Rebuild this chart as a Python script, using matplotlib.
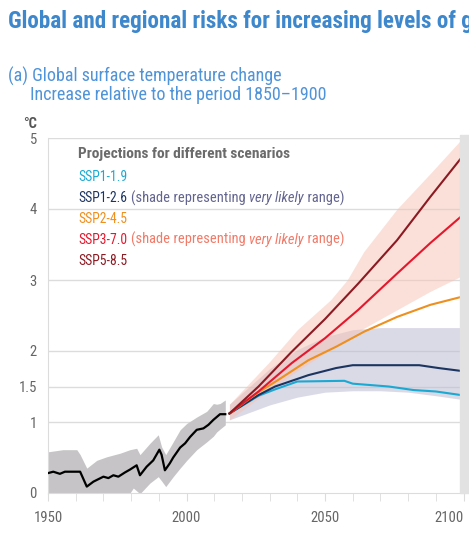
import matplotlib
matplotlib.use("Agg")
import matplotlib.pyplot as plt
from matplotlib.patches import Rectangle

# ---------------- data ----------------
hist_years = [1950, 1951.9, 1954.3, 1956.1, 1961.6, 1964, 1966.4, 1970, 1971.8, 1973.6, 1975.4,
              1977.8, 1979.6, 1982, 1983.2, 1985.6, 1988, 1990.2, 1991, 1992.2, 1994, 1995.2,
              1997.7, 1999.5, 2001.3, 2003.7, 2006.1, 2007.9, 2009.7, 2012.1, 2014]
hist_vals = [0.28, 0.30, 0.27, 0.30, 0.30, 0.09, 0.16, 0.23, 0.21, 0.25, 0.23,
             0.29, 0.33, 0.39, 0.25, 0.37, 0.46, 0.61, 0.54, 0.32, 0.42, 0.50,
             0.64, 0.70, 0.79, 0.89, 0.91, 0.96, 1.03, 1.11, 1.11]

band_years = [1950, 1955.4, 1960.4, 1961.6, 1964, 1967.6, 1971.2, 1976, 1979.6, 1980.8, 1982,
              1983.2, 1986.8, 1989.8, 1991, 1992.5, 1995.2, 1997.7, 2000.1, 2003.7, 2007.3,
              2009.7, 2010.9, 2012.1, 2014]
band_upper = [0.58, 0.61, 0.61, 0.54, 0.35, 0.46, 0.51, 0.56, 0.61, 0.62, 0.63,
              0.54, 0.70, 0.82, 0.65, 0.54, 0.72, 0.89, 0.98, 1.07, 1.15,
              1.26, 1.25, 1.26, 1.31]
band_lower = [-0.05, -0.05, -0.05, -0.05, -0.08, -0.05, -0.05, -0.03, 0.0, 0.07, 0.03,
              -0.01, 0.14, 0.23, 0.17, 0.09, 0.23, 0.35, 0.46, 0.61, 0.72,
              0.80, 0.86, 0.90, 0.96]

ssp119_years = [2015.5, 2026, 2032, 2040, 2057, 2060, 2073, 2082, 2090, 2099]
ssp119 = [1.12, 1.37, 1.46, 1.57, 1.58, 1.54, 1.50, 1.45, 1.43, 1.38]
ssp126_years = [2015.5, 2026, 2032, 2044, 2054, 2060, 2084, 2091, 2099]
ssp126 = [1.12, 1.38, 1.50, 1.66, 1.76, 1.80, 1.80, 1.76, 1.72]
ssp245_years = [2015.5, 2026, 2033, 2044, 2054, 2064, 2076, 2088, 2099]
ssp245 = [1.12, 1.42, 1.59, 1.87, 2.06, 2.27, 2.48, 2.65, 2.76]
ssp370_years = [2015.5, 2026, 2038, 2050, 2062, 2076, 2088, 2099]
ssp370 = [1.12, 1.43, 1.83, 2.18, 2.58, 3.09, 3.52, 3.89]
ssp585_years = [2015.5, 2026, 2038, 2050, 2062, 2076, 2088, 2099]
ssp585 = [1.12, 1.50, 1.99, 2.45, 2.95, 3.56, 4.17, 4.71]

ssp126_range_years = [2015.5, 2030, 2040, 2050, 2060, 2070, 2080, 2090, 2099]
ssp126_lo = [1.03, 1.24, 1.35, 1.42, 1.44, 1.44, 1.42, 1.37, 1.32]
ssp126_hi = [1.25, 1.75, 2.02, 2.20, 2.30, 2.33, 2.33, 2.33, 2.33]
ssp370_range_years = [2015.5, 2030, 2040, 2052, 2058, 2064, 2076, 2088, 2099]
ssp370_lo = [1.03, 1.45, 1.72, 2.02, 2.17, 2.32, 2.58, 2.84, 3.05]
ssp370_hi = [1.25, 1.85, 2.30, 2.72, 3.00, 3.40, 4.00, 4.50, 4.97]

scen_names = ["SSP1-1.9", "SSP1-2.6", "SSP2-4.5", "SSP3-7.0", "SSP5-8.5"]
scen_colors = ["#1aa9d3", "#1c3560", "#ee8f1e", "#e3182d", "#8c1a22"]

yticks = [0, 1, 1.5, 2, 3, 4, 5]
ytick_labels = ["0", "1", "1.5", "2", "3", "4", "5"]
xticks = [1950, 2000, 2050, 2100]
xtick_labels = ["1950", "2000", "2050", "2100"]
minor_xticks = list(range(1950, 2101, 10))

# ---------------- setup ----------------
FAM = ["Roboto Condensed", "DejaVu Sans"]
plt.rcParams["font.family"] = FAM

W, H = 469, 536
fig = plt.figure(figsize=(W / 100, H / 100), dpi=100)
fig.canvas.draw()
R = fig.canvas.get_renderer()


def fx(px):
    return px / W


def fy(py):
    return 1 - py / H


def fit_size(text, target_px, **kw):
    t = fig.text(0, 0, text, fontsize=10, **kw)
    w = t.get_window_extent(R).width
    t.remove()
    return 10 * target_px / w


ax = fig.add_axes([fx(48), fy(493), fx(463.5) - fx(48), fy(138) - fy(493)])
ax.set_xlim(1950, 2100)
ax.set_ylim(0, 5)

grid_c = "#dcdcdc"
for yv in yticks[1:]:
    ax.axhline(yv, color=grid_c, lw=1.0, zorder=0)

for s in ["top", "right"]:
    ax.spines[s].set_visible(False)
ax.spines["left"].set_color(grid_c)
ax.spines["bottom"].set_color(grid_c)

tick_c = "#666666"
tick_size = fit_size("1950", 29)
ax.set_yticks(yticks)
ax.set_yticklabels(ytick_labels)
ax.set_xticks(xticks)
ax.set_xticklabels(xtick_labels)
ax.set_xticks(minor_xticks, minor=True)
ax.tick_params(axis="y", length=0, pad=8, labelsize=tick_size, labelcolor=tick_c)
ax.tick_params(axis="x", which="major", length=6, color=grid_c, pad=7, labelsize=tick_size,
               labelcolor=tick_c)
ax.tick_params(axis="x", which="minor", length=6, color=grid_c)
ax.get_xticklabels()[-1].set_horizontalalignment("right")

# historical
ax.fill_between(band_years, band_lower, band_upper, color="#c6c4c6", lw=0, zorder=2)
ax.plot(hist_years, hist_vals, color="black", lw=1.6, zorder=3)

# projection ranges
ax.fill_between(ssp126_range_years, ssp126_lo, ssp126_hi, color="#bdbbd3", alpha=0.55, lw=0, zorder=2)
ax.fill_between(ssp370_range_years, ssp370_lo, ssp370_hi, color="#f6c3b3", alpha=0.5, lw=0, zorder=2)

series = [(ssp119_years, ssp119), (ssp126_years, ssp126), (ssp245_years, ssp245),
          (ssp370_years, ssp370), (ssp585_years, ssp585)]
for (yrs, vals), c in zip(series, scen_colors):
    ax.plot(yrs, vals, color=c, lw=1.5, zorder=4)

# grey strip at right edge
fig.patches.append(Rectangle((fx(460), fy(493)), fx(469) - fx(460), fy(135) - fy(493),
                             transform=fig.transFigure, color="#e2e2e2", zorder=5))

# ---------------- texts ----------------
title_size = fit_size("Global and regional risks for increasing levels of", 450, fontweight="bold")
fig.text(fx(8), fy(28), "Global and regional risks for increasing levels of global warming",
         color="#3d87cd", fontsize=title_size, fontweight="bold", va="baseline")

blue = "#4f93d8"
sub_size = fit_size("(a) Global surface temperature change", 272)
fig.text(fx(8), fy(82), "(a) Global surface temperature change", color=blue, fontsize=sub_size,
         va="baseline")
fig.text(fx(30), fy(100), "Increase relative to the period 1850\u20131900", color=blue,
         fontsize=sub_size, va="baseline")
unit_size = fit_size("\u00b0C", 14, fontweight="bold")
fig.text(fx(23), fy(128), "\u00b0C", color="#555555", fontsize=unit_size, fontweight="bold",
         va="baseline")

leg_x = fx(78)
head_size = fit_size("Projections for different scenarios", 212, fontweight="bold")
fig.text(leg_x, fy(158), "Projections for different scenarios", color="#6b6b6b",
         fontsize=head_size, fontweight="bold", va="baseline")
leg_size = fit_size("SSP1-1.9", 49)
leg_y = [180.7, 202.3, 222.7, 244, 265]
name_texts = []
for name, c, yy in zip(scen_names, scen_colors, leg_y):
    name_texts.append(fig.text(leg_x, fy(yy), name, color=c, fontsize=leg_size, va="baseline"))

fig.canvas.draw()

note_parts = [("(shade representing ", "normal"), ("very likely", "italic"), (" range)", "normal")]


def add_shade_note(idx, col, end_px):
    bb = name_texts[idx].get_window_extent(R)
    start = bb.x1 + 4
    # measure at reference size
    total = 0
    for txt, style in note_parts:
        t = fig.text(0, 0, txt, fontsize=10, fontstyle=style)
        total += t.get_window_extent(R).width
        t.remove()
    size = 10 * (end_px - start) / total
    x0 = start / W
    y0 = fy(leg_y[idx])
    for txt, style in note_parts:
        tt = fig.text(x0, y0, txt, color=col, fontsize=size, fontstyle=style, va="baseline")
        x0 = tt.get_window_extent(R).x1 / W


add_shade_note(1, "#62648f", 342)
add_shade_note(3, "#f27a68", 343)

fig.savefig("out.png", dpi=100)
